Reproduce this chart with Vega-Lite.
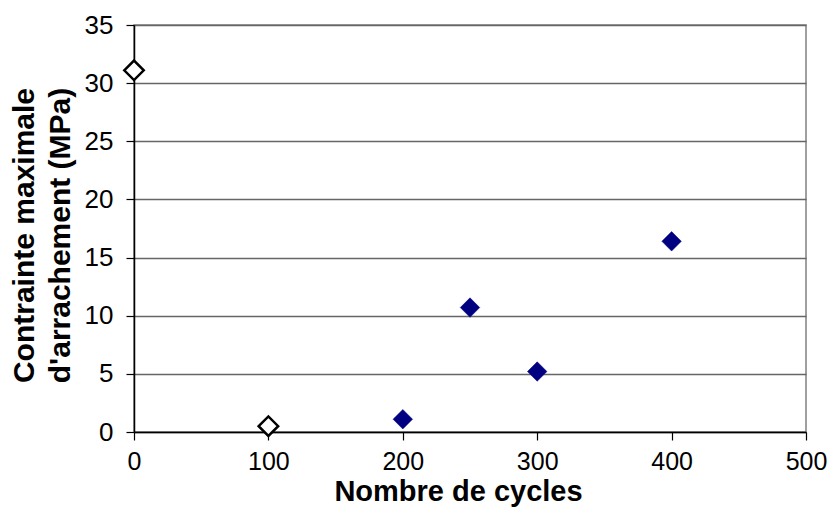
{
  "$schema": "https://vega.github.io/schema/vega-lite/v6.json",
  "autosize": {"type": "none"},
  "width": 672,
  "height": 407,
  "padding": {"left": 134, "top": 25, "right": 23, "bottom": 76},
  "background": "white",
  "config": {
    "view": {"stroke": "#808080", "strokeWidth": 1.5},
    "font": "Liberation Sans"
  },
  "data": {
    "values": [
      {"cycles": 0, "contrainte": 31.1, "serie": "ouvert"},
      {"cycles": 100, "contrainte": 0.5, "serie": "ouvert"},
      {"cycles": 200, "contrainte": 1.1, "serie": "plein"},
      {"cycles": 250, "contrainte": 10.7, "serie": "plein"},
      {"cycles": 300, "contrainte": 5.2, "serie": "plein"},
      {"cycles": 400, "contrainte": 16.4, "serie": "plein"}
    ]
  },
  "mark": {"type": "point", "shape": "diamond", "size": 380, "strokeWidth": 2.5, "filled": false, "opacity": 1},
  "encoding": {
    "x": {
      "field": "cycles", "type": "quantitative",
      "scale": {"domain": [0, 500], "nice": false, "zero": true},
      "axis": {
        "values": [0, 100, 200, 300, 400, 500],
        "title": "Nombre de cycles",
        "titleFont": "Liberation Sans", "titleFontSize": 29, "titleFontWeight": "bold", "titleColor": "black",
        "titlePadding": 3, "titleX": 324,
        "labelFont": "Liberation Sans", "labelFontSize": 25, "labelColor": "black", "labelPadding": 9,
        "labelFlush": false,
        "domainColor": "black", "domainWidth": 1.5,
        "tickColor": "black", "tickSize": 8, "tickWidth": 1.2,
        "grid": false
      }
    },
    "y": {
      "field": "contrainte", "type": "quantitative",
      "scale": {"domain": [0, 35], "nice": false},
      "axis": {
        "values": [0, 5, 10, 15, 20, 25, 30, 35],
        "title": ["Contrainte maximale", "d'arrachement (MPa)"],
        "titleFont": "Liberation Sans", "titleFontSize": 30, "titleFontWeight": "bold", "titleColor": "black",
        "titlePadding": 9, "titleLineHeight": 36, "titleY": 210,
        "labelFont": "Liberation Sans", "labelFontSize": 26, "labelColor": "black", "labelPadding": 13,
        "labelFlush": false,
        "domainColor": "black", "domainWidth": 1.5,
        "tickColor": "black", "tickSize": 8, "tickWidth": 1.2,
        "grid": true, "gridColor": "#666666", "gridWidth": 1.5
      }
    },
    "fill": {
      "field": "serie", "type": "nominal",
      "scale": {"domain": ["ouvert", "plein"], "range": ["white", "#000080"]},
      "legend": null
    },
    "stroke": {
      "field": "serie", "type": "nominal",
      "scale": {"domain": ["ouvert", "plein"], "range": ["black", "#000080"]},
      "legend": null
    },
    "strokeWidth": {
      "field": "serie", "type": "nominal",
      "scale": {"domain": ["ouvert", "plein"], "range": [2.5, 0.5]},
      "legend": null
    }
  }
}
